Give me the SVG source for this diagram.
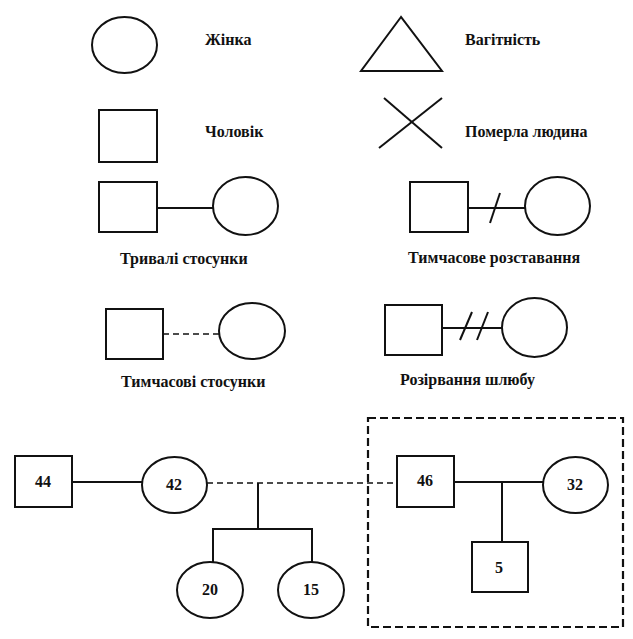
<svg xmlns="http://www.w3.org/2000/svg" width="633" height="639" viewBox="0 0 633 639">
<style>
.s{fill:none;stroke:#111;stroke-width:2}
.d{fill:none;stroke:#111;stroke-width:1.6;stroke-dasharray:6 4}
.b{fill:none;stroke:#111;stroke-width:2.2;stroke-dasharray:8 4}
.t{font-family:"Liberation Serif",serif;font-size:16px;font-weight:bold;fill:#111}
.n{font-family:"Liberation Serif",serif;font-size:16px;font-weight:bold;fill:#111;text-anchor:middle}
</style>
<rect width="633" height="639" fill="#fff"/>
<g id="connectors">
<line class="s" x1="157" y1="208" x2="213" y2="208"/>
<line class="d" x1="163" y1="334" x2="219" y2="334"/>
<line class="s" x1="468" y1="208" x2="525" y2="208"/>
<line class="s" x1="490" y1="223" x2="500" y2="193"/>
<line class="s" x1="442" y1="328" x2="502" y2="328"/>
<line class="s" x1="460" y1="340" x2="472" y2="312"/>
<line class="s" x1="477" y1="340" x2="488" y2="312"/>
<line class="s" x1="72" y1="482" x2="142" y2="482"/>
<line class="d" x1="207" y1="483" x2="397" y2="483"/>
<polyline class="s" points="258,483 258,529"/>
<polyline class="s" points="213,562 213,529 312,529 312,562"/>
<line class="s" x1="454" y1="482" x2="543" y2="482"/>
<line class="s" x1="502" y1="482" x2="502" y2="542"/>
</g>
<g id="legend-woman"><ellipse class="s" cx="124.5" cy="45" rx="32.5" ry="28"/><text class="t" x="205" y="45">Жінка</text></g>
<g id="legend-man"><rect class="s" x="99" y="110" width="58" height="52"/><text class="t" x="205" y="137">Чоловік</text></g>
<g id="legend-pregnancy"><polygon class="s" points="401,17 361,71 442,71"/><text class="t" x="465" y="45">Вагітність</text></g>
<g id="legend-deceased"><line class="s" x1="384" y1="98" x2="442" y2="148"/><line class="s" x1="379" y1="148" x2="442" y2="98"/><text class="t" x="465" y="137">Померла людина</text></g>
<g id="legend-long"><rect class="s" x="99" y="182" width="58" height="50"/><ellipse class="s" cx="245.5" cy="206" rx="32.5" ry="29"/><text class="t" x="120" y="264">Тривалі стосунки</text></g>
<g id="legend-temp"><rect class="s" x="106" y="309" width="57" height="50"/><ellipse class="s" cx="252" cy="331" rx="33" ry="28"/><text class="t" x="121" y="387">Тимчасові стосунки</text></g>
<g id="legend-separation"><rect class="s" x="410" y="182" width="58" height="50"/><ellipse class="s" cx="557.5" cy="206" rx="32.5" ry="29"/><text class="t" x="408" y="263">Тимчасове розставання</text></g>
<g id="legend-divorce"><rect class="s" x="385" y="305" width="57" height="50"/><ellipse class="s" cx="534.5" cy="327.5" rx="32.5" ry="29.5"/><text class="t" x="400" y="385">Розірвання шлюбу</text></g>
<g id="box"><rect class="b" x="368" y="418" width="255" height="209"/></g>
<g id="n44"><rect class="s" x="15" y="456" width="57" height="51"/><text class="n" x="43" y="487">44</text></g>
<g id="n42"><ellipse class="s" cx="174.5" cy="485" rx="32.5" ry="28"/><text class="n" x="174" y="490">42</text></g>
<g id="n20"><ellipse class="s" cx="210" cy="590" rx="33" ry="28"/><text class="n" x="210" y="595">20</text></g>
<g id="n15"><ellipse class="s" cx="311" cy="590" rx="33" ry="28"/><text class="n" x="311" y="595">15</text></g>
<g id="n46"><rect class="s" x="397" y="456" width="57" height="51"/><text class="n" x="425" y="486">46</text></g>
<g id="n32"><ellipse class="s" cx="575.5" cy="485" rx="32.5" ry="28"/><text class="n" x="575" y="490">32</text></g>
<g id="n5"><rect class="s" x="472" y="542" width="56" height="50"/><text class="n" x="499" y="573">5</text></g>
</svg>
